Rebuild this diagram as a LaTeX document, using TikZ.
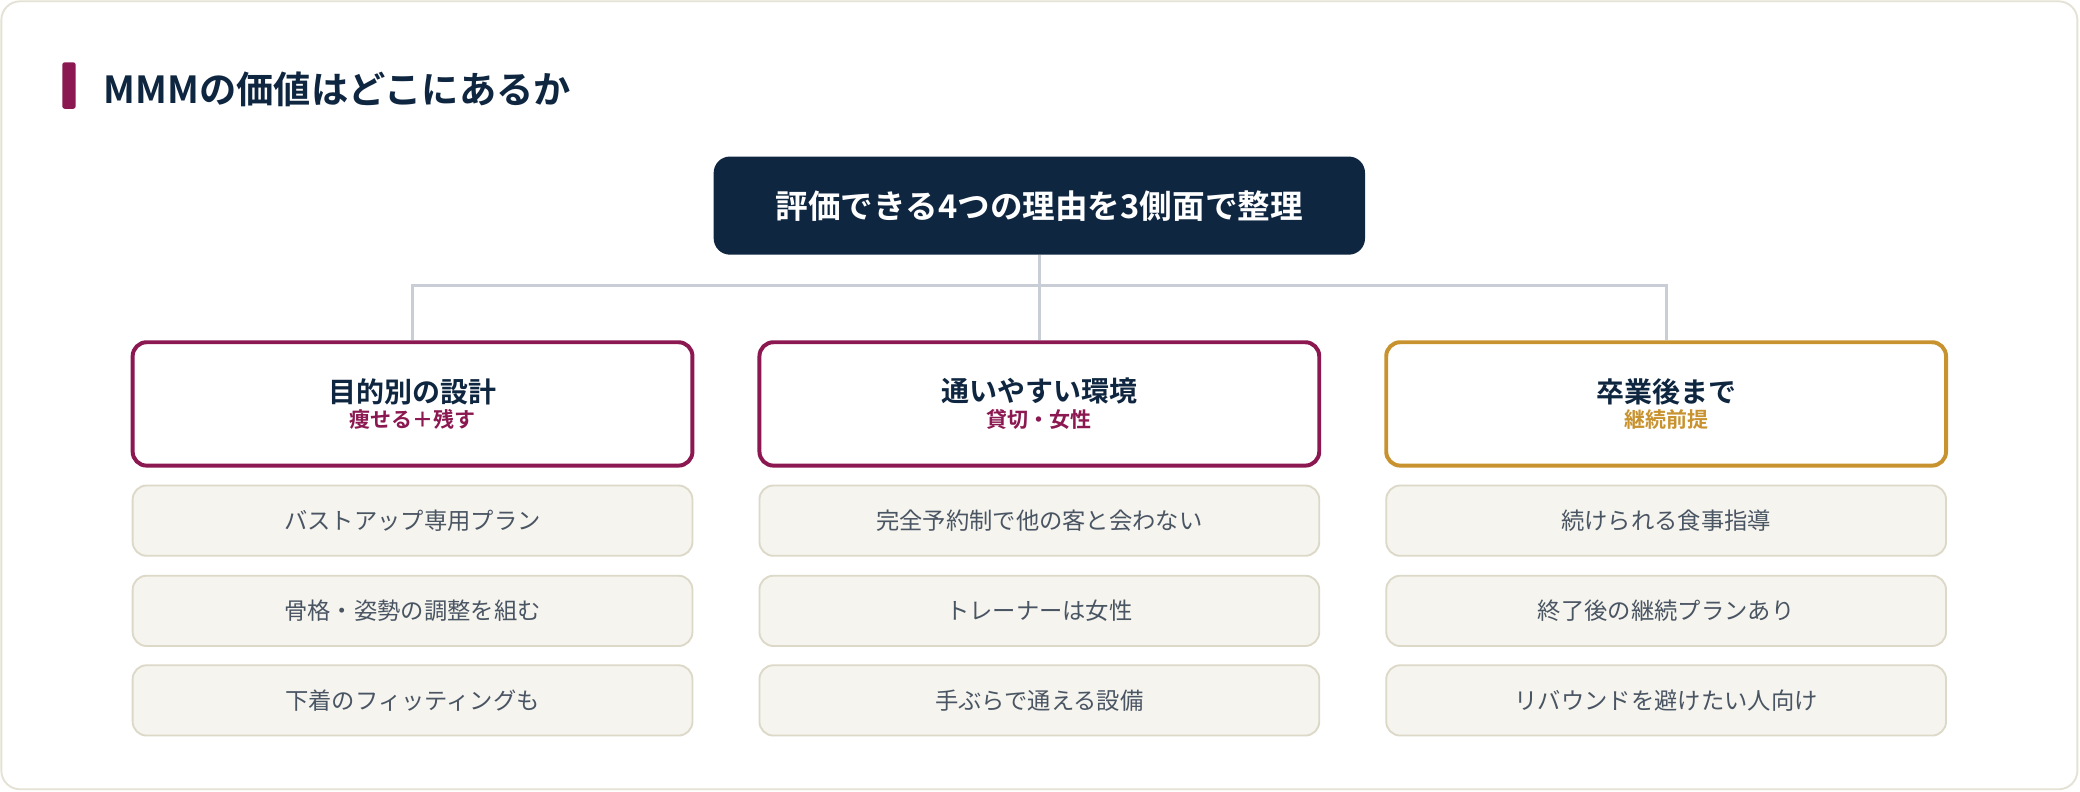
\documentclass[tikz,border=0pt]{standalone}
\usepackage{fontspec}
\setmainfont{Noto Sans CJK JP}[BoldFont={Noto Sans CJK JP Bold}]
\usetikzlibrary{positioning}
\definecolor{navy}{HTML}{0F2640}
\definecolor{maroon}{HTML}{8B1850}
\definecolor{gold}{HTML}{C8922E}
\definecolor{linegray}{HTML}{C8CDD6}
\definecolor{itemfill}{HTML}{F5F4EE}
\definecolor{itemline}{HTML}{DDD9C8}
\definecolor{itemtext}{HTML}{4A5563}
\definecolor{frame}{HTML}{E4E2D4}
\tikzset{
  head/.style={draw=#1,line width=1.7pt,fill=white,rounded corners=6pt,
    minimum width=422*0.02cm,minimum height=93*0.02cm,align=center},
  item/.style={draw=itemline,line width=0.8pt,fill=itemfill,rounded corners=6pt,
    minimum width=422*0.02cm,minimum height=53*0.02cm,text=itemtext,font=\fontsize{10}{12}\selectfont},
  link/.style={linegray,line width=1.4pt}
}
\begin{document}
\begin{tikzpicture}[x=0.02cm,y=-0.02cm]
\useasboundingbox (0,0) rectangle (1568,597);
\draw[frame,line width=0.8pt,fill=white,rounded corners=8pt] (1,1) rectangle (1566,595);
\fill[maroon,rounded corners=1pt] (47,47) rectangle (57,82);
\node[anchor=west,text=navy,font=\fontsize{16}{18}\bfseries\selectfont] (title) at (72,67) {MMMの価値はどこにあるか};

\node[fill=navy,rounded corners=7pt,text=white,minimum width=491*0.02cm,minimum height=74*0.02cm,
  font=\fontsize{14}{16}\bfseries\selectfont] (top) at (783.5,155) {評価できる4つの理由を3側面で整理};

% columns
\node[head=maroon] (h1) at (311,304.5) {\textcolor{navy}{\fontsize{12}{14}\bfseries\selectfont 目的別の設計}\\[-1pt]\textcolor{maroon}{\fontsize{9}{11}\bfseries\selectfont 痩せる＋残す}};
\node[head=maroon] (h2) at (783.5,304.5) {\textcolor{navy}{\fontsize{12}{14}\bfseries\selectfont 通いやすい環境}\\[-1pt]\textcolor{maroon}{\fontsize{9}{11}\bfseries\selectfont 貸切・女性}};
\node[head=gold] (h3) at (1256,304.5) {\textcolor{navy}{\fontsize{12}{14}\bfseries\selectfont 卒業後まで}\\[-1pt]\textcolor{gold}{\fontsize{9}{11}\bfseries\selectfont 継続前提}};

\node[item] (a1) at (311,392.5) {バストアップ専用プラン};
\node[item] (a2) at (311,460.5) {骨格・姿勢の調整を組む};
\node[item] (a3) at (311,528) {下着のフィッティングも};
\node[item] (b1) at (783.5,392.5) {完全予約制で他の客と会わない};
\node[item] (b2) at (783.5,460.5) {トレーナーは女性};
\node[item] (b3) at (783.5,528) {手ぶらで通える設備};
\node[item] (c1) at (1256,392.5) {続けられる食事指導};
\node[item] (c2) at (1256,460.5) {終了後の継続プランあり};
\node[item] (c3) at (1256,528) {リバウンドを避けたい人向け};

% tree
\coordinate (mid) at (783.5,215);
\draw[link] (top.south) -- (mid);
\draw[link] (h1.north) |- (mid) -| (h3.north);
\draw[link] (mid) -- (h2.north);
\end{tikzpicture}
\end{document}
